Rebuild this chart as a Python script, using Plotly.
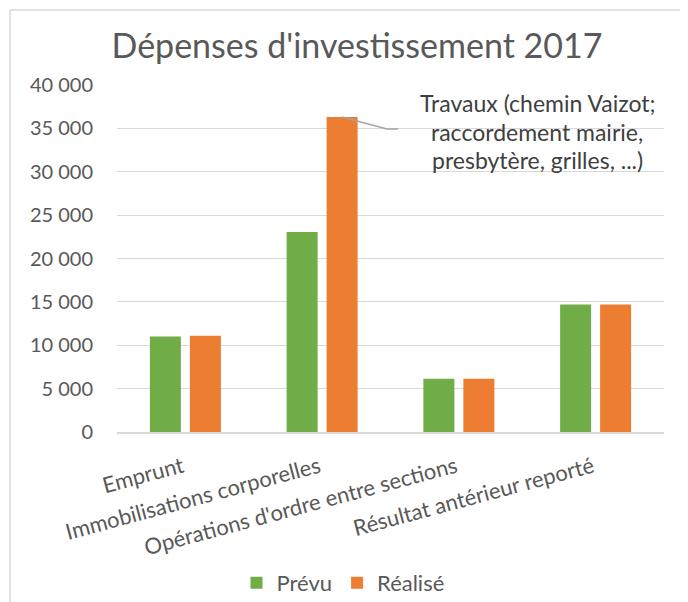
import plotly.graph_objects as go

categories = ["Emprunt", "Immobilisations corporelles", "Opérations d'ordre entre sections", "Résultat antérieur reporté"]
prevu = [11000, 23050, 6150, 14700]
realise = [11100, 36300, 6150, 14700]
series_names = ["Prévu", "Réalisé"]
colors = ["#70AD47", "#ED7D31"]
y_ticks = [0, 5000, 10000, 15000, 20000, 25000, 30000, 35000, 40000]
note_lines = ["Travaux (chemin Vaizot;", "raccordement mairie,", "presbytère, grilles, ...)"]

OFF = 8  # page body margin
W, H = 688 - OFF, 602 - OFF
# plot area in reference screen pixels
X0, X1, Y0, Y1 = 117, 664, 85, 432
L, R, T, B = X0 - OFF, W - (X1 - OFF), Y0 - OFF, H - (Y1 - OFF)
pw, ph = X1 - X0, Y1 - Y0

def px(x):
    return (x - X0) / pw

def py(y):
    return (Y1 - y) / ph

FONT = "Lato"
fig = go.Figure()
for name, vals, c in zip(series_names, [prevu, realise], colors):
    fig.add_trace(go.Bar(x=categories, y=vals, name=name, marker=dict(color=c, line=dict(width=0))))

fig.update_layout(
    width=W, height=H,
    margin=dict(l=L, r=R, t=T, b=B),
    paper_bgcolor="white", plot_bgcolor="white",
    barmode="group", bargap=0.415, bargroupgap=0.225,
    separators=", ",
    font=dict(family=FONT, color="#595959"),
    title=dict(text="Dépenses d'investissement 2017", x=(357 - OFF) / W, xanchor="center",
               y=1 - (46 - OFF) / H, yanchor="middle", yref="container",
               font=dict(size=34, color="#595959", family=FONT)),
    showlegend=True,
    legend=dict(orientation="h", xref="container", yref="container",
                x=(343 - OFF) / W, xanchor="center", y=1 - (583 - OFF) / H, yanchor="middle",
                font=dict(size=22, color="#595959"), itemwidth=30, traceorder="normal"),
    xaxis=dict(showline=True, linecolor="#D9D9D9", linewidth=1.8, tickangle=-15,
               tickfont=dict(size=22, color="#595959"), ticks="", showgrid=False,
               ticklabelstandoff=12, ticklabelshift=-3, automargin=False),
    yaxis=dict(range=[0, 40000], tickvals=y_ticks, tickformat=",d", showgrid=True,
               gridcolor="#D9D9D9", gridwidth=1.2, zeroline=False, showline=False,
               tickfont=dict(size=20, color="#595959"), ticklabelstandoff=23, automargin=False),
)

for i, line in enumerate(note_lines):
    fig.add_annotation(text=line, xref="paper", yref="paper", x=px(537), y=py(103 + 28.5 * i),
                       xanchor="center", yanchor="middle", showarrow=False,
                       font=dict(size=23, color="#404040", family=FONT))

fig.add_shape(type="path", xref="paper", yref="paper",
              path=f"M {px(342)} {py(117)} L {px(387)} {py(129)} L {px(398)} {py(129)}",
              line=dict(color="#A5A5A5", width=1.5))

# chart border (left and top visible)
fig.add_shape(type="line", xref="paper", yref="paper", x0=px(10), x1=px(10), y0=py(10), y1=py(700),
              line=dict(color="#D9D9D9", width=1.5))
fig.add_shape(type="line", xref="paper", yref="paper", x0=px(10), x1=px(800), y0=py(10), y1=py(10),
              line=dict(color="#D9D9D9", width=1.5))

fig.write_html("out.html")
